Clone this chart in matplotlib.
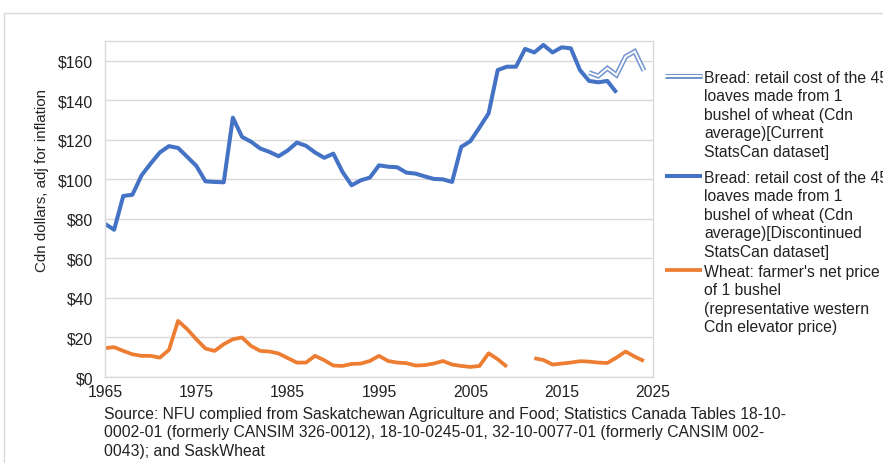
import matplotlib
matplotlib.use("Agg")
import matplotlib.pyplot as plt
import numpy as np
from matplotlib.lines import Line2D
from matplotlib.patches import Rectangle

plt.rcParams['font.family'] = ['Liberation Sans', 'DejaVu Sans']

# ---- data ----
years_disc = list(range(1965, 2022))
bread_disc = [77.5, 74.5, 91.6, 92.2, 102, 108, 113.6, 116.8, 115.9, 111.4,
              106.8, 99, 98.7, 98.5, 131.2, 121.5, 119, 115.6, 113.9, 111.7,
              114.6, 118.6, 117, 113.6, 110.9, 113, 103.8, 97, 99.5, 100.9,
              107.1, 106.4, 106.1, 103.4, 102.9, 101.5, 100.2, 100, 98.7, 116.4,
              119.3, 126.2, 133.4, 155.3, 157, 157, 166, 164.2, 168, 164.2,
              166.8, 166.3, 155.3, 149.8, 149.1, 149.8, 143.9]
years_cur = list(range(2018, 2025))
bread_cur = [154, 152.3, 156.2, 152.8, 162.1, 164.7, 155]
years_wheat = list(range(1965, 2025))
wheat = [14.6, 15.1, 13.2, 11.5, 10.7, 10.7, 9.8, 13.7, 28.4, 24.2,
         19.1, 14.4, 13.2, 16.6, 19.1, 20, 15.7, 13.2, 12.9, 11.9,
         9.6, 7.3, 7.3, 10.7, 8.5, 5.8, 5.6, 6.6, 6.8, 8.1,
         10.7, 8.1, 7.3, 7.0, 5.8, 6.0, 6.8, 8.1, 6.3, 5.6,
         5.1, 5.6, 12, 9, 5.2, np.nan, np.nan, 9.5, 8.6, 6.3,
         6.8, 7.3, 8.0, 7.8, 7.3, 7.1, 9.8, 12.9, 10.3, 8.1]
xticks = [1965, 1975, 1985, 1995, 2005, 2015, 2025]
yticks = [0, 20, 40, 60, 80, 100, 120, 140, 160]
ytick_labels = ['$' + str(v) for v in yticks]
legend_labels = [
    ["Bread: retail cost of the 45", "loaves made from 1", "bushel of wheat (Cdn",
     "average)[Current", "StatsCan dataset]"],
    ["Bread: retail cost of the 45", "loaves made from 1", "bushel of wheat (Cdn",
     "average)[Discontinued", "StatsCan dataset]"],
    ["Wheat: farmer's net price", "of 1 bushel", "(representative western",
     "Cdn elevator price)"],
]
source_lines = [
    "Source: NFU complied from Saskatchewan Agriculture and Food; Statistics Canada Tables 18-10-",
    "0002-01 (formerly CANSIM 326-0012), 18-10-0245-01, 32-10-0077-01 (formerly CANSIM 002-",
    "0043); and SaskWheat",
]

BLUE = '#4472C4'
LBLUE = '#7193d0'
ORANGE = '#ED7D31'
GRID = '#d9d9d9'
TXT = '#222222'
FS = 11.3

W, H = 883, 464
fig = plt.figure(figsize=(W / 100, H / 100), dpi=100)

def fx(px):
    return px / W

def fy(py):
    return 1 - py / H

# outer chart border
fig.add_artist(Rectangle((fx(4), fy(470)), fx(890) - fx(4), fy(14) - fy(470),
                         transform=fig.transFigure, fill=False, edgecolor=GRID, lw=1))

left, right, top, bottom = 105, 653, 42, 378
ax = fig.add_axes([fx(left), fy(bottom), fx(right) - fx(left), fy(top) - fy(bottom)])
ax.set_xlim(1965, 2025)
ax.set_ylim(0, 170)
ax.set_xticks(xticks)
ax.set_xticklabels([str(x) for x in xticks])
ax.set_yticks(yticks)
ax.set_yticklabels(ytick_labels)
ax.tick_params(length=0, labelsize=FS, colors=TXT)
ax.tick_params(axis='y', pad=8.5)
ax.tick_params(axis='x', pad=5)
for s in ax.spines.values():
    s.set_color(GRID)
    s.set_linewidth(1)
ax.grid(axis='y', color=GRID, lw=1)
ax.set_axisbelow(True)

ax.plot(years_wheat, wheat, color=ORANGE, lw=2.7, solid_capstyle='butt', solid_joinstyle='round')
ax.plot(years_disc, bread_disc, color=BLUE, lw=2.9, solid_capstyle='butt', solid_joinstyle='round')
ax.plot(years_cur, bread_cur, color=LBLUE, lw=3.6, solid_capstyle='butt', solid_joinstyle='miter')
ax.plot(years_cur, bread_cur, color='white', lw=1.4, solid_capstyle='butt', solid_joinstyle='miter')

# y label
fig.text(fx(42), fy(180), "Cdn dollars, adj for inflation", rotation=90,
         ha='center', va='center', fontsize=FS - 0.4, color=TXT)

# legend (manual)
line_step = 18.4
entry_tops = [77, 177, 271]
styles = [
    [(LBLUE, 3.6), ('white', 1.4)],
    [(BLUE, 2.9)],
    [(ORANGE, 2.7)],
]
for top_y, labels, sty in zip(entry_tops, legend_labels, styles):
    for c, lw in sty:
        fig.add_artist(Line2D([fx(665), fx(702)], [fy(top_y), fy(top_y)],
                              transform=fig.transFigure, color=c, lw=lw,
                              solid_capstyle='butt'))
    for i, lab in enumerate(labels):
        fig.text(fx(704), fy(top_y + i * line_step), lab, ha='left', va='center_baseline',
                 fontsize=FS, color=TXT)

# source
for i, s in enumerate(source_lines):
    fig.text(fx(104), fy(413 + i * 18.5), s, ha='left', va='center_baseline',
             fontsize=FS, color=TXT)

fig.savefig('out.png', dpi=100)
